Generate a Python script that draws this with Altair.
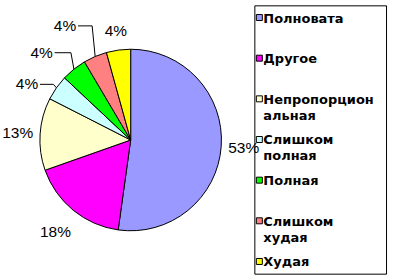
import altair as alt
import pandas as pd

categories = ["Полновата", "Другое", "Непропорциональная", "Слишком полная",
              "Полная", "Слишком худая", "Худая"]
shares = [52.2, 17.4, 12.9, 4.5, 4.5, 4.2, 4.3]
pct_labels = ["53%", "18%", "13%", "4%", "4%", "4%", "4%"]
legend_labels = ["Полновата", "Другое", "Непропорцион\nальная", "Слишком\nполная",
                 "Полная", "Слишком\nхудая", "Худая"]
colors = ["#9999FF", "#FF00FF", "#FFFFCC", "#CCFFFF", "#00FF00", "#FF8080", "#FFFF00"]

df = pd.DataFrame({
    "cat": categories,
    "share": shares,
    "pct": pct_labels,
    "leg": legend_labels,
    "order": list(range(len(categories))),
})

CX, CY, R = 131, 135, 91
color_scale = alt.Scale(domain=categories, range=colors)

base = alt.Chart(df)

arcs = base.mark_arc(stroke="black", strokeWidth=1, radius=R).encode(
    theta=alt.Theta("share:Q", stack=True),
    order=alt.Order("order:Q"),
    color=alt.Color("cat:N", scale=color_scale, legend=None),
    x=alt.value(CX),
    y=alt.value(CY),
)

geo = (
    base.transform_joinaggregate(total="sum(share)")
    .transform_window(cum="sum(share)", sort=[alt.SortField("order")], frame=[None, 0])
    .transform_calculate(mid="(datum.cum - datum.share/2) / datum.total * 2 * PI")
    .transform_calculate(lead="datum.order >= 3 && datum.order <= 5")
    .transform_calculate(la="datum.lead ? datum.mid - 0.12 : datum.mid")
    .transform_calculate(
        lr="datum.lead ? 118 + 7*(datum.order-3) : (datum.order <= 2 ? 113 + 8*abs(cos(datum.mid)) : 110)"
    )
    .transform_calculate(lx=f"{CX} + datum.lr * sin(datum.la)")
    .transform_calculate(ly=f"{CY} - datum.lr * cos(datum.la)")
    .transform_calculate(ex=f"{CX} + {R} * sin(datum.mid)")
    .transform_calculate(ey=f"{CY} - {R} * cos(datum.mid)")
)

labels = geo.mark_text(font="Liberation Sans", fontSize=15.5, align="center",
                       baseline="middle", color="black").encode(
    x=alt.X("lx:Q", scale=None, axis=None),
    y=alt.Y("ly:Q", scale=None, axis=None),
    text="pct:N",
)

lead = (geo.transform_filter("datum.lead")
        .transform_calculate(p1x="datum.lx + 13")
        .transform_calculate(p2x="datum.ex - 3"))

seg1 = lead.mark_rule(color="black", strokeWidth=1).encode(
    x=alt.X("p1x:Q", scale=None, axis=None), x2="p2x:Q",
    y=alt.Y("ly:Q", scale=None, axis=None), y2="ly:Q",
)
seg2 = lead.mark_rule(color="black", strokeWidth=1).encode(
    x=alt.X("p2x:Q", scale=None, axis=None), x2="ex:Q",
    y=alt.Y("ly:Q", scale=None, axis=None), y2="ey:Q",
)

pie = alt.layer(arcs, seg1, seg2, labels).properties(width=255, height=269)

leg_base = alt.Chart(df).encode(
    y=alt.Y("order:O", scale=alt.Scale(type="point", padding=0.3), axis=None)
)
squares = leg_base.mark_square(size=36, stroke="black", strokeWidth=1, opacity=1).encode(
    x=alt.value(5),
    color=alt.Color("cat:N", scale=color_scale, legend=None),
)
texts = leg_base.mark_text(font="DejaVu Sans", fontSize=13, fontWeight="bold",
                           align="left", baseline="alphabetic", dy=5,
                           lineBreak="\n", lineHeight=16, color="black").encode(
    x=alt.value(9),
    text="leg:N",
)
legend = alt.layer(squares, texts).properties(
    width=132, height=269,
    view=alt.ViewBackground(stroke="black", strokeWidth=1),
)

chart = alt.hconcat(pie, legend, spacing=0, bounds="flush").properties(
    padding={"left": 0, "top": 4, "right": 10, "bottom": 6}
).configure_view(strokeWidth=0)

chart.save("out.html", embed_options={"renderer": "svg", "actions": False})
